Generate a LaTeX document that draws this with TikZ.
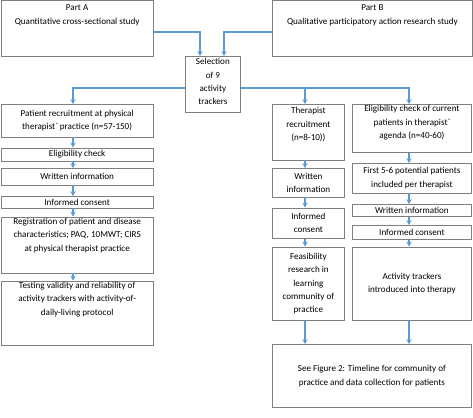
\documentclass[tikz,border=0pt]{standalone}
\usepackage{fontspec}
\setmainfont{Carlito}
\usetikzlibrary{arrows.meta}
\definecolor{arrowblue}{HTML}{5B9BD5}
\definecolor{boxgray}{HTML}{7F7F7F}
\newcommand{\bx}[7]{%
  \node[boxnode] (#1) at (#2,#3) {\parbox[c][#5pt][#6]{#4pt}{\centering #7}};}
\tikzset{
  boxnode/.style={draw=boxgray, line width=0.8pt, anchor=north west, inner sep=0pt,
    font=\fontsize{9.1}{13.4}\selectfont},
  arr/.style={draw=arrowblue, line width=1.1pt, -{Stealth[length=5pt,width=5.5pt,inset=2pt]}},
}
\begin{document}
\begin{tikzpicture}[x=1pt,y=-1pt]
\useasboundingbox (0,0) rectangle (473,417);
% top row
\bx{pa}{0.5}{0.5}{152.5}{55.5}{t}{\vspace*{4pt}Part A\\Quantitative cross-sectional study}
\bx{pb}{272}{0.5}{200}{55.5}{t}{\vspace*{4pt}Part B\\Qualitative participatory action research study}
\bx{sel}{185}{56}{55}{56}{t}{\vspace*{2pt}Selection\\of 9\\activity\\trackers}
% left column
\bx{pr}{0.5}{104}{152.5}{32.5}{c}{Patient recruitment at physical\\therapist\textasciigrave{} practice (n=57-150)}
\bx{ec}{0.5}{147.5}{152.5}{13}{c}{Eligibility check}
\bx{wi}{0.5}{168}{152.5}{16.5}{c}{Written information}
\bx{ic}{0.5}{196}{152.5}{11.5}{c}{Informed consent}
\bx{reg}{0.5}{216.5}{152.5}{56}{t}{\vspace*{1pt}Registration of patient and disease\\characteristics; PAQ, 10MWT; CIRS\\at physical therapist practice}
\bx{tst}{0.5}{280.5}{152.5}{64}{t}{\vspace*{1pt}Testing validity and reliability of\\activity trackers with activity-of-\\daily-living protocol}
% middle column
\bx{tr}{272}{104}{72}{55.5}{t}{\vspace*{3pt}Therapist\\recruitment\\(n=8-10))}
\bx{wi2}{272}{168}{72}{28.5}{c}{Written\\information}
\bx{ic2}{272}{207.5}{72}{30.5}{c}{Informed\\consent}
\bx{fea}{272}{246.5}{72}{73.5}{c}{Feasibility\\research in\\learning\\community of\\practice}
% right column
\bx{ec3}{352}{104}{119}{48}{t}{\vspace*{1pt}Eligibility check of current\\patients in therapist\textasciigrave\\agenda (n=40-60)}
\bx{fp}{352}{163}{119}{29.5}{c}{First 5-6 potential patients\\included per therapist}
\bx{wi3}{352}{204}{119}{12}{c}{Written information}
\bx{ic3}{352}{225}{119}{14}{c}{Informed consent}
\bx{at}{352}{246.5}{119}{73.5}{c}{Activity trackers\\introduced into therapy}
\bx{fig}{272}{344}{199}{63}{c}{See Figure 2: Timeline for community of\\practice and data collection for patients}
% column coordinates
\coordinate (cA) at (73,0);
\coordinate (cB) at (305,0);
\coordinate (cC) at (409,0);
\coordinate (jA) at (200,32);
\coordinate (jB) at (224,32);
% top arrows
\draw[arr] (pa.east |- jA) -- (jA) -- (sel.north -| jA);
\draw[arr] (pb.west |- jB) -- (jB) -- (sel.north -| jB);
\coordinate (hy) at (0,88);
\draw[arr] (sel.west |- hy) -- (cA |- hy) -- (pr.north -| cA);
\draw[arr] (sel.east |- hy) -- (cC |- hy) -- (ec3.north -| cC);
\draw[arr] (cB |- hy) -- (tr.north -| cB);
% left column arrows
\draw[arr] (pr.south -| cA) -- (ec.north -| cA);
\draw[arr] (ec.south -| cA) -- (wi.north -| cA);
\draw[arr] (wi.south -| cA) -- (ic.north -| cA);
\draw[arr] (ic.south -| cA) -- (reg.north -| cA);
\draw[arr] (reg.south -| cA) -- (tst.north -| cA);
% middle column arrows
\draw[arr] (tr.south -| cB) -- (wi2.north -| cB);
\draw[arr] (wi2.south -| cB) -- (ic2.north -| cB);
\draw[arr] (ic2.south -| cB) -- (fea.north -| cB);
\draw[arr] (fea.south -| cB) -- (fig.north -| cB);
% right column arrows
\draw[arr] (ec3.south -| cC) -- (fp.north -| cC);
\draw[arr] (fp.south -| cC) -- (wi3.north -| cC);
\draw[arr] (wi3.south -| cC) -- (ic3.north -| cC);
\draw[arr] (ic3.south -| cC) -- (at.north -| cC);
\draw[arr] (at.south -| cC) -- (fig.north -| cC);
\end{tikzpicture}
\end{document}
